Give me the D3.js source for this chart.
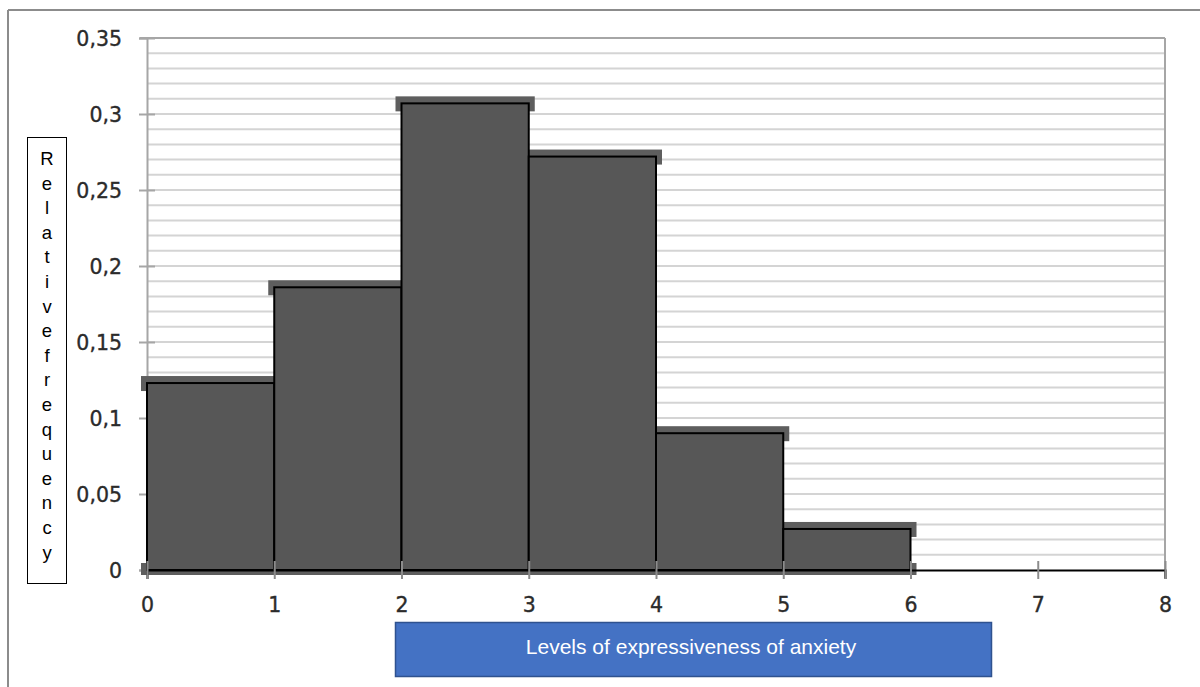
<!DOCTYPE html>
<html><head><meta charset="utf-8">
<script src="https://cdn.jsdelivr.net/npm/d3@7"></script>
<style>html,body{margin:0;padding:0;background:#fff;}svg{display:block;}</style>
</head><body>
<svg id="c" width="1200" height="687"></svg>
<script>
const binStarts = [0, 1, 2, 3, 4, 5];
const binEnds = [1, 2, 3, 4, 5, 6];
const freqs = [0.123, 0.186, 0.307, 0.272, 0.090, 0.027];
const yTicks = [0, 0.05, 0.1, 0.15, 0.2, 0.25, 0.3, 0.35];
const yTickLabels = ["0", "0,05", "0,1", "0,15", "0,2", "0,25", "0,3", "0,35"];
const xTicks = [0, 1, 2, 3, 4, 5, 6, 7, 8];
const yLabel = "Relativefrequency";
const xLabel = "Levels of expressiveness of anxiety";

const svg = d3.select("#c");
const x = d3.scaleLinear().domain([0, 8]).range([147, 1165]);
const y = d3.scaleLinear().domain([0, 0.35]).range([570, 38]);
const tickFont = "'DejaVu Sans', Verdana, sans-serif";
const labelFont = "'Liberation Sans', Arial, sans-serif";

// outer frame
svg.append("line").attr("x1", 8).attr("x2", 1200).attr("y1", 10).attr("y2", 10).attr("stroke", "#8c8c8c").attr("stroke-width", 2);
svg.append("line").attr("x1", 8).attr("x2", 8).attr("y1", 10).attr("y2", 687).attr("stroke", "#8c8c8c").attr("stroke-width", 2);

// minor gridlines
const grid = d3.range(1, 35).map(i => i / 100);
svg.append("g").selectAll("line").data(grid).join("line")
  .attr("x1", x(0)).attr("x2", x(8))
  .attr("y1", d => y(d)).attr("y2", d => y(d))
  .attr("stroke", "#d4d4d4").attr("stroke-width", 2);
// top line
svg.append("line").attr("x1", 140).attr("x2", x(8)).attr("y1", y(0.35)).attr("y2", y(0.35)).attr("stroke", "#a6a6a6").attr("stroke-width", 2);
// right border
svg.append("line").attr("x1", x(8)).attr("x2", x(8)).attr("y1", y(0.35)).attr("y2", y(0) + 8).attr("stroke", "#a6a6a6").attr("stroke-width", 2);

// y axis
const yAxis = d3.axisLeft(y).tickValues(yTicks).tickFormat((d, i) => yTickLabels[i]).tickSize(8).tickPadding(17);
const gy = svg.append("g").attr("transform", `translate(${x(0)},0)`).call(yAxis);
gy.attr("font-family", null).attr("font-size", null);
gy.select(".domain").attr("stroke", "#a6a6a6").attr("stroke-width", 2);
gy.selectAll(".tick line").attr("stroke", "#a6a6a6").attr("stroke-width", 2).attr("x2", -8).attr("x1", 8);
gy.selectAll(".tick text").style("font-family", tickFont).style("font-size", "20.5px")
  .attr("fill", "#2b2b2b").attr("stroke", "#2b2b2b").attr("stroke-width", 0.35).attr("dy", "0.36em");

// shadows
const bars = binStarts.map((s, i) => ({s, e: binEnds[i], v: freqs[i]}));
const sh = svg.append("g").attr("fill", "#5e5e5e");
bars.forEach(b => {
  sh.append("rect").attr("x", x(b.s) - 6).attr("y", y(b.v) - 7).attr("width", x(b.e) - x(b.s) + 12).attr("height", 15);
  sh.append("rect").attr("x", x(b.s) - 6).attr("y", y(0) - 7).attr("width", x(b.e) - x(b.s) + 12).attr("height", 12);
});

// bars
svg.append("g").selectAll("rect").data(bars).join("rect")
  .attr("x", d => x(d.s)).attr("y", d => y(d.v))
  .attr("width", d => x(d.e) - x(d.s)).attr("height", d => y(0) - y(d.v))
  .attr("fill", "#575757").attr("stroke", "#000").attr("stroke-width", 2);

// x axis
const xAxis = d3.axisBottom(x).tickValues(xTicks).tickFormat(d3.format("d")).tickSize(9).tickPadding(18);
const gx = svg.append("g").attr("transform", `translate(0,${y(0)})`).call(xAxis);
gx.attr("font-family", null).attr("font-size", null);
gx.select(".domain").attr("stroke", "#000").attr("stroke-width", 2);
gx.selectAll(".tick line").attr("stroke", "#8c8c8c").attr("stroke-width", 2).attr("y1", -9).attr("y2", 9);
gx.selectAll(".tick text").style("font-family", tickFont).style("font-size", "20.5px")
  .attr("fill", "#2b2b2b").attr("stroke", "#2b2b2b").attr("stroke-width", 0.35);

// y label box
svg.append("rect").attr("x", 27.5).attr("y", 137.5).attr("width", 39).attr("height", 446).attr("fill", "#fff").attr("stroke", "#000").attr("stroke-width", 1);
svg.append("g").selectAll("text").data(yLabel.split("")).join("text")
  .attr("x", 47).attr("y", (d, i) => 165 + i * 24.6)
  .attr("text-anchor", "middle").style("font-family", labelFont).style("font-size", "18.5px").attr("fill", "#000")
  .text(d => d);

// x label box
svg.append("rect").attr("x", 395.5).attr("y", 622.5).attr("width", 596).attr("height", 54).attr("fill", "#4472c4").attr("stroke", "#2f528f").attr("stroke-width", 1.5);
svg.append("text").attr("x", 691).attr("y", 654).attr("text-anchor", "middle")
  .style("font-family", labelFont).style("font-size", "21px").attr("fill", "#fff").text(xLabel);
</script>
</body></html>
